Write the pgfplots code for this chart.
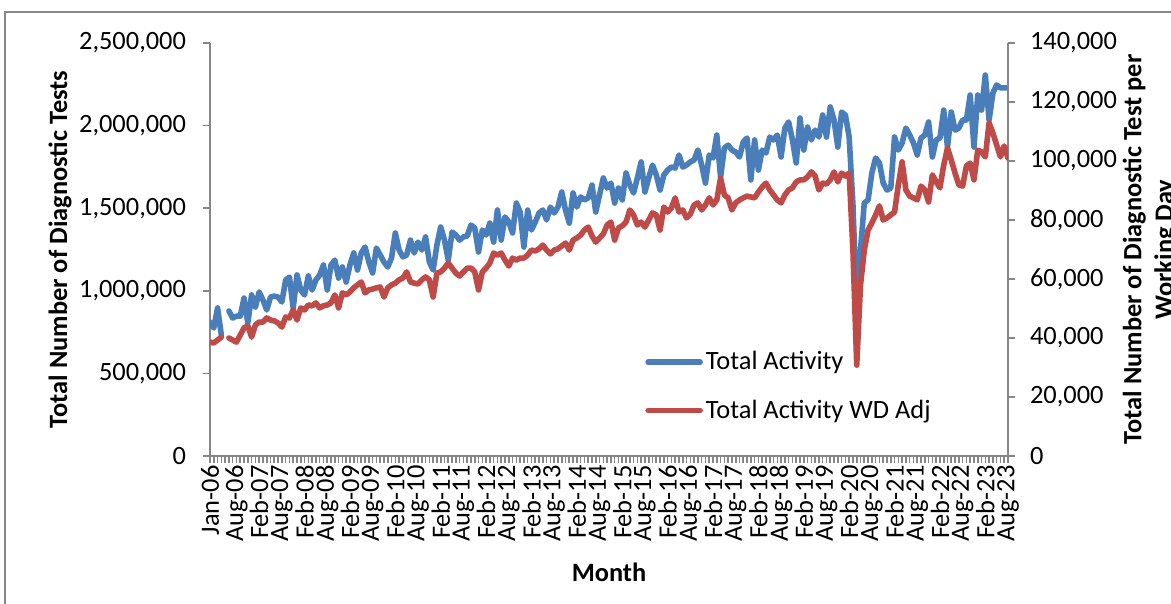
\documentclass[border=0pt]{standalone}
\usepackage{fontspec}
\setmainfont{Carlito}
\usepackage{pgfplots}
\pgfplotsset{compat=1.18}
\usepackage{pgfplotstable}
\definecolor{blueA}{HTML}{4A7EBB}
\definecolor{redA}{HTML}{BE4B48}
\definecolor{axgray}{HTML}{868686}
\newcommand{\fs}{\fontsize{13.2bp}{15.8bp}\selectfont}

\pgfplotstableread{
x b r
0 811000 38600
1 775000 38300
2 896000 39300
3 732000 40300
4 nan nan
5 878000 40000
6 835000 39300
7 847000 38600
8 847000 41000
9 956000 43400
10 805000 44100
11 975000 40300
12 902000 44400
13 993000 45400
14 944000 45400
15 884000 46800
16 962000 46100
17 968000 45800
18 962000 45100
19 932000 43700
20 1065000 47100
21 1083000 46800
22 896000 49500
23 1096000 46100
24 1005000 50200
25 975000 49500
26 1090000 51200
27 1005000 50900
28 1065000 51900
29 1096000 50200
30 1156000 50900
31 1005000 51200
32 1156000 51900
33 1186000 54600
34 1077000 50200
35 1144000 55300
36 1053000 54600
37 1156000 55600
38 1229000 57000
39 1126000 58000
40 1229000 59000
41 1265000 55300
42 1174000 56300
43 1108000 56600
44 1259000 57000
45 1217000 57300
46 1174000 53900
47 1144000 57000
48 1199000 58000
49 1350000 58600
50 1247000 59700
51 1205000 60300
52 1217000 62400
53 1307000 59000
54 1229000 58600
55 1295000 58300
56 1247000 59700
57 1326000 60700
58 1174000 59700
59 1126000 53900
60 1277000 62000
61 1386000 62400
62 1307000 63700
63 1186000 65400
64 1356000 63700
65 1338000 62000
66 1307000 61000
67 1326000 62400
68 1332000 63700
69 1398000 63700
70 1380000 62400
71 1235000 56300
72 1368000 62400
73 1338000 63700
74 1410000 65400
75 1295000 68800
76 1489000 68100
77 1307000 68800
78 1447000 66400
79 1416000 64400
80 1350000 67100
81 1531000 66400
82 1477000 67100
83 1265000 67100
84 1489000 68100
85 1368000 69800
86 1416000 69500
87 1471000 70200
88 1489000 71500
89 1429000 69800
90 1507000 68500
91 1471000 69800
92 1507000 70200
93 1598000 71200
94 1489000 72200
95 1410000 69800
96 1592000 73200
97 1507000 73900
98 1568000 74900
99 1550000 76600
100 1562000 77600
101 1640000 74600
102 1477000 72500
103 1580000 73900
104 1683000 75300
105 1622000 78300
106 1652000 79300
107 1531000 73200
108 1622000 77300
109 1550000 78000
110 1713000 79300
111 1640000 83400
112 1592000 81700
113 1683000 78300
114 1780000 79300
115 1598000 77600
116 1683000 80000
117 1761000 82400
118 1701000 81700
119 1610000 76600
120 1701000 84400
121 1731000 82700
122 1749000 84100
123 1743000 87500
124 1822000 82700
125 1749000 83400
126 1761000 80700
127 1780000 82000
128 1792000 85100
129 1852000 85800
130 1761000 83400
131 1652000 85100
132 1822000 87500
133 1804000 85100
134 1943000 86800
135 1689000 94200
136 1864000 88500
137 1882000 87500
138 1852000 83400
139 1840000 85800
140 1810000 86800
141 1901000 87500
142 1925000 88100
143 1671000 87800
144 1913000 87500
145 1731000 89500
146 1852000 91200
147 1834000 92500
148 1931000 90200
149 1913000 88500
150 1943000 86800
151 1810000 85800
152 1985000 88500
153 2022000 90200
154 1913000 90900
155 1774000 92900
156 2046000 93600
157 1852000 93600
158 1991000 94600
159 1913000 96300
160 1973000 94900
161 1931000 90200
162 2064000 92500
163 1931000 92200
164 2113000 93600
165 2034000 96300
166 1870000 92900
167 2082000 95900
168 2064000 94900
169 1931000 95900
170 1520000 69800
171 884000 30800
172 1247000 58000
173 1531000 69800
174 1550000 76600
175 1713000 79000
176 1804000 81700
177 1774000 84800
178 1652000 80000
179 1610000 80700
180 1622000 81700
181 1931000 82700
182 1852000 91900
183 1895000 99700
184 1985000 90200
185 1943000 88100
186 1895000 87500
187 1822000 86800
188 1925000 91500
189 1943000 90200
190 2022000 86100
191 1810000 95300
192 1913000 92900
193 1925000 90900
194 2094000 98600
195 1870000 104400
196 2082000 100300
197 1973000 95900
198 1985000 91900
199 2034000 91500
200 2034000 98300
201 2185000 99300
202 1870000 93600
203 2185000 103700
204 2094000 103100
205 2306000 101400
206 2034000 112900
207 2197000 109500
208 2246000 105400
209 2228000 101400
210 2228000 105100
211 2228000 101000
}\datatable

\begin{document}
\begin{tikzpicture}
\pgfplotsset{
  common/.style={
    at={(105bp,74bp)}, anchor=south west,
    scale only axis, width=399bp, height=206.5bp,
    xmin=0, xmax=211,
    axis line style={axgray, line width=1bp},
    tick style={axgray, line width=0.8bp},
    tick align=outside,
    major tick length=3.5bp, minor tick length=3.5bp,
    scaled y ticks=false,
    unbounded coords=jump,
    yticklabel style={font=\fs, /pgf/number format/fixed, /pgf/number format/1000 sep={,}, /pgf/number format/assume math mode=true},
  }
}
\begin{axis}[common,
  ymin=0, ymax=2500000,
  axis x line*=bottom, axis y line*=left,
  ytick={0,500000,1000000,1500000,2000000,2500000},
  yticklabel style={xshift=-5bp},
  xtick={0,7,13,19,25,31,37,43,49,55,61,67,73,79,85,91,97,103,109,115,121,127,133,139,145,151,157,163,169,175,181,187,193,199,205,211},
  xticklabels={Jan-06,Aug-06,Feb-07,Aug-07,Feb-08,Aug-08,Feb-09,Aug-09,Feb-10,Aug-10,Feb-11,Aug-11,Feb-12,Aug-12,Feb-13,Aug-13,Feb-14,Aug-14,Feb-15,Aug-15,Feb-16,Aug-16,Feb-17,Aug-17,Feb-18,Aug-18,Feb-19,Aug-19,Feb-20,Aug-20,Feb-21,Aug-21,Feb-22,Aug-22,Feb-23,Aug-23},
  minor xtick={0,...,211},
  xticklabel style={font=\fs, rotate=90, anchor=east, inner sep=1bp},
  xlabel={Month},
  xlabel style={font=\fs\bfseries, at={(axis description cs:0.5,-0.281)}, anchor=center},
  ylabel={Total Number of Diagnostic Tests},
  ylabel style={font=\fs\bfseries, at={(axis description cs:-0.188,0.5)}, anchor=center},
]
\addplot[blueA, line width=2.8bp, line join=round, line cap=round] table[x=x, y=b]{\datatable};
\end{axis}
\begin{axis}[common,
  ymin=0, ymax=140000,
  axis x line=none, axis y line*=right,
  ytick={0,20000,40000,60000,80000,100000,120000,140000},
  yticklabel style={xshift=4bp},
  ylabel={Total Number of Diagnostic Test per\\Working Day},
  ylabel style={font=\fs\bfseries, align=center, at={(axis description cs:1.178,0.5)}, anchor=center},
  legend image code/.code={\draw[#1] (0bp,0bp) -- (26bp,0bp);},
  legend cell align=left,
  legend style={at={(axis description cs:0.545,0.261)}, anchor=north west, draw=none, fill=none,
    font=\fs, row sep=10.5bp, inner sep=0pt,
    nodes={inner sep=1.5bp}},
]
\addlegendimage{blueA, line width=2.8bp, line cap=round}
\addlegendentry{Total Activity}
\addplot[redA, line width=2.8bp, line join=round, line cap=round] table[x=x, y=r]{\datatable};
\addlegendentry{Total Activity WD Adj}
\end{axis}
\draw[axgray, line width=1bp] (2.5bp,296bp) rectangle (620bp,-20bp);
\pgfresetboundingbox
\useasboundingbox (0,0) rectangle (585.5bp,302bp);
\end{tikzpicture}
\end{document}
